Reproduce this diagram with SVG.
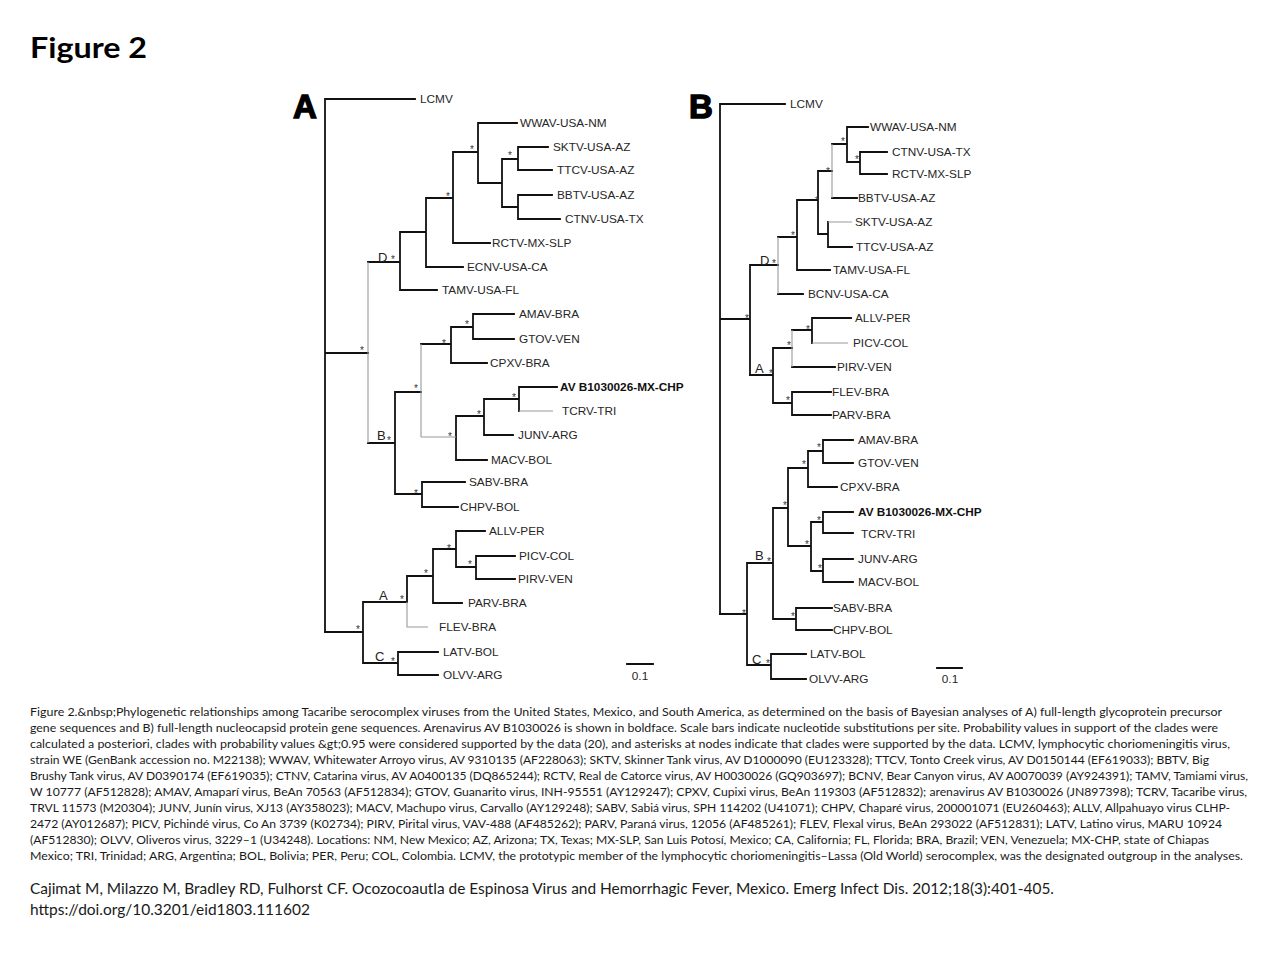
<svg xmlns="http://www.w3.org/2000/svg" width="1280" height="960" viewBox="0 0 1280 960">
<style>
.br{fill:none;stroke:#111;stroke-width:1.8;stroke-linecap:square}
.gr{fill:none;stroke:#9a9a9a;stroke-width:1.1}
.tx{font-family:"Liberation Sans",Arial,sans-serif;font-size:11.8px;fill:#262626}
.bd{font-weight:bold;fill:#111}
.cl{font-family:"Liberation Sans",Arial,sans-serif;font-size:13px;fill:#222}
.st{font-family:"Liberation Sans",Arial,sans-serif;font-size:10px;fill:#333;text-anchor:middle}
.pl{font-family:"Liberation Sans",Arial,sans-serif;font-size:33px;font-weight:bold;fill:#000;stroke:#000;stroke-width:1.4}
.cap{font-family:Lato,"Liberation Sans",sans-serif;font-size:11.3px;fill:#1a1a1a}
.cit{font-family:Lato,"Liberation Sans",sans-serif;font-size:15px;fill:#1a1a1a}
</style>
<rect width="1280" height="960" fill="#fff"/>
<text x="30" y="58" font-family="Lato,'Liberation Sans',sans-serif" font-size="29" font-weight="bold" fill="#000" textLength="117" lengthAdjust="spacingAndGlyphs">Figure 2</text>

<!-- Tree A connectors -->
<g id="connectors-A">
<path class="br" d="M325,99V632M325,99H415M325,353H368M368,262H400M400,232V290M400,290H437M400,232H426M426,198V267M426,267H463M426,198H453M453,152V243M453,243H490M453,152H478M478,123V183M478,123H517M478,183H502M502,159V207M502,159H518M518,147V170M518,147H548M518,170H552M502,207H518M518,195V219M518,195H552M518,219H560"/>
<path class="br" d="M368,443H395M395,392V494M395,392H421M421,344H451M451,327V363M451,363H487M451,327H473M473,314V339M473,314H514M473,339H514M456,416V460M456,460H487M456,416H484M484,399V435M484,435H513M484,399H519M519,387V411M519,387H557M395,494H422M422,482V507M422,482H465M422,507H458"/>
<path class="br" d="M325,632H363M363,602V663M363,602H407M407,576V602M407,576H433M433,549V603M433,603H462M433,549H456M456,531V567M456,531H485M456,567H476M476,556V579M476,556H515M476,579H515M363,663H398M398,652V675M398,652H438M398,675H438M627,664H653"/>
<path class="gr" d="M368,262V443M421,344V437M421,437H456M519,411H553M407,602V627H428"/>
</g>

<!-- Tree A nodes -->
<g id="tree-A">
<text class="pl" x="293" y="118">A</text>
<g id="A-LCMV"><text class="tx" x="420" y="103">LCMV</text></g>
<g id="A-WWAV"><text class="tx" x="520" y="127">WWAV-USA-NM</text></g>
<g id="A-SKTV"><text class="tx" x="553" y="151">SKTV-USA-AZ</text></g>
<g id="A-TTCV"><text class="tx" x="557" y="174">TTCV-USA-AZ</text></g>
<g id="A-BBTV"><text class="tx" x="557" y="199">BBTV-USA-AZ</text></g>
<g id="A-CTNV"><text class="tx" x="565" y="223">CTNV-USA-TX</text></g>
<g id="A-RCTV"><text class="tx" x="492" y="247">RCTV-MX-SLP</text></g>
<g id="A-ECNV"><text class="tx" x="467" y="271">ECNV-USA-CA</text></g>
<g id="A-TAMV"><text class="tx" x="442" y="294">TAMV-USA-FL</text></g>
<g id="A-AMAV"><text class="tx" x="519" y="318">AMAV-BRA</text></g>
<g id="A-GTOV"><text class="tx" x="519" y="343">GTOV-VEN</text></g>
<g id="A-CPXV"><text class="tx" x="490" y="367">CPXV-BRA</text></g>
<g id="A-AVB"><text class="tx bd" x="560" y="391">AV B1030026-MX-CHP</text></g>
<g id="A-TCRV"><text class="tx" x="562" y="415">TCRV-TRI</text></g>
<g id="A-JUNV"><text class="tx" x="518" y="439">JUNV-ARG</text></g>
<g id="A-MACV"><text class="tx" x="491" y="464">MACV-BOL</text></g>
<g id="A-SABV"><text class="tx" x="469" y="486">SABV-BRA</text></g>
<g id="A-CHPV"><text class="tx" x="460" y="511">CHPV-BOL</text></g>
<g id="A-ALLV"><text class="tx" x="489" y="535">ALLV-PER</text></g>
<g id="A-PICV"><text class="tx" x="519" y="560">PICV-COL</text></g>
<g id="A-PIRV"><text class="tx" x="518" y="583">PIRV-VEN</text></g>
<g id="A-PARV"><text class="tx" x="468" y="607">PARV-BRA</text></g>
<g id="A-FLEV"><text class="tx" x="439" y="631">FLEV-BRA</text></g>
<g id="A-LATV"><text class="tx" x="443" y="656">LATV-BOL</text></g>
<g id="A-OLVV"><text class="tx" x="443" y="679">OLVV-ARG</text></g>
<g id="A-clades">
<text class="cl" x="378" y="262">D</text>
<text class="cl" x="377" y="440">B</text>
<text class="cl" x="379" y="600">A</text>
<text class="cl" x="375" y="661">C</text>
</g>
<g id="A-support">
<text class="st" x="472" y="153">*</text><text class="st" x="510" y="159">*</text><text class="st" x="448" y="200">*</text><text class="st" x="393" y="263">*</text><text class="st" x="362" y="354">*</text><text class="st" x="467" y="328">*</text><text class="st" x="444" y="347">*</text><text class="st" x="416" y="392">*</text><text class="st" x="514" y="401">*</text><text class="st" x="479" y="418">*</text><text class="st" x="450" y="440">*</text><text class="st" x="389" y="444">*</text><text class="st" x="416" y="497">*</text><text class="st" x="449" y="552">*</text><text class="st" x="470" y="568">*</text><text class="st" x="426" y="577">*</text><text class="st" x="402" y="603">*</text><text class="st" x="358" y="633">*</text><text class="st" x="393" y="665">*</text>
</g>
<text class="tx" x="640" y="680" text-anchor="middle">0.1</text>
</g>

<!-- Tree B connectors -->
<g id="connectors-B">
<path class="br" d="M720,104V614M720,104H785M720,319H750M750,265V375M750,265H778M778,294H803M778,237H797M797,200V270M797,270H830M797,200H818M818,171V234M818,234H828M828,222V247M828,247H852M818,171H832M832,198H857M832,144H847M847,127V162M847,127H868M847,162H860M860,152V174M860,152H887M860,174H887"/>
<path class="br" d="M750,375H773M773,348V403M773,348H792M792,367H835M792,330H812M812,318V343M812,318H851M773,403H792M792,392V415M792,392H831M792,415H831"/>
<path class="br" d="M720,614H747M747,563V665M747,563H773M773,508V619M773,508H788M788,468V546M788,468H808M808,451V487M808,487H837M808,451H823M823,440V463M823,440H853M823,463H853M788,546H811M811,522V571M811,522H823M823,512V533M823,512H853M823,533H853M811,571H823M823,559V582M823,559H853M823,582H853M773,619H796M796,608V630M796,608H832M796,630H832M747,665H771M771,654V679M771,654H806M771,679H806M937,668H962"/>
<path class="gr" d="M778,237V294M828,222H852M832,144V198M792,330V367M812,343H848"/>
</g>

<!-- Tree B nodes -->
<g id="tree-B">
<text class="pl" x="689" y="118">B</text>
<g id="B-LCMV"><text class="tx" x="790" y="108">LCMV</text></g>
<g id="B-WWAV"><text class="tx" x="870" y="131">WWAV-USA-NM</text></g>
<g id="B-CTNV"><text class="tx" x="892" y="156">CTNV-USA-TX</text></g>
<g id="B-RCTV"><text class="tx" x="892" y="178">RCTV-MX-SLP</text></g>
<g id="B-BBTV"><text class="tx" x="858" y="202">BBTV-USA-AZ</text></g>
<g id="B-SKTV"><text class="tx" x="855" y="226">SKTV-USA-AZ</text></g>
<g id="B-TTCV"><text class="tx" x="856" y="251">TTCV-USA-AZ</text></g>
<g id="B-TAMV"><text class="tx" x="833" y="274">TAMV-USA-FL</text></g>
<g id="B-BCNV"><text class="tx" x="808" y="298">BCNV-USA-CA</text></g>
<g id="B-ALLV"><text class="tx" x="855" y="322">ALLV-PER</text></g>
<g id="B-PICV"><text class="tx" x="853" y="347">PICV-COL</text></g>
<g id="B-PIRV"><text class="tx" x="837" y="371">PIRV-VEN</text></g>
<g id="B-FLEV"><text class="tx" x="832" y="396">FLEV-BRA</text></g>
<g id="B-PARV"><text class="tx" x="832" y="419">PARV-BRA</text></g>
<g id="B-AMAV"><text class="tx" x="858" y="444">AMAV-BRA</text></g>
<g id="B-GTOV"><text class="tx" x="858" y="467">GTOV-VEN</text></g>
<g id="B-CPXV"><text class="tx" x="840" y="491">CPXV-BRA</text></g>
<g id="B-AVB"><text class="tx bd" x="858" y="516">AV B1030026-MX-CHP</text></g>
<g id="B-TCRV"><text class="tx" x="861" y="538">TCRV-TRI</text></g>
<g id="B-JUNV"><text class="tx" x="858" y="563">JUNV-ARG</text></g>
<g id="B-MACV"><text class="tx" x="858" y="586">MACV-BOL</text></g>
<g id="B-SABV"><text class="tx" x="833" y="612">SABV-BRA</text></g>
<g id="B-CHPV"><text class="tx" x="833" y="634">CHPV-BOL</text></g>
<g id="B-LATV"><text class="tx" x="810" y="658">LATV-BOL</text></g>
<g id="B-OLVV"><text class="tx" x="809" y="683">OLVV-ARG</text></g>
<g id="B-clades">
<text class="cl" x="760" y="265">D</text>
<text class="cl" x="755" y="373">A</text>
<text class="cl" x="755" y="560">B</text>
<text class="cl" x="752" y="664">C</text>
</g>
<g id="B-support">
<text class="st" x="843" y="145">*</text><text class="st" x="857" y="163">*</text><text class="st" x="828" y="175">*</text><text class="st" x="817" y="204">*</text><text class="st" x="793" y="239">*</text><text class="st" x="774" y="267">*</text><text class="st" x="747" y="322">*</text><text class="st" x="808" y="333">*</text><text class="st" x="789" y="349">*</text><text class="st" x="771" y="377">*</text><text class="st" x="788" y="404">*</text><text class="st" x="819" y="451">*</text><text class="st" x="804" y="468">*</text><text class="st" x="785" y="509">*</text><text class="st" x="819" y="524">*</text><text class="st" x="807" y="548">*</text><text class="st" x="820" y="572">*</text><text class="st" x="769" y="565">*</text><text class="st" x="793" y="620">*</text><text class="st" x="744" y="617">*</text><text class="st" x="768" y="667">*</text>
</g>
<text class="tx" x="950" y="683" text-anchor="middle">0.1</text>
</g>

<!-- Caption -->
<g id="caption">
<text class="cap" x="30" y="716" textLength="1192" lengthAdjust="spacingAndGlyphs">Figure 2.&amp;nbsp;Phylogenetic relationships among Tacaribe serocomplex viruses from the United States, Mexico, and South America, as determined on the basis of Bayesian analyses of A) full-length glycoprotein precursor</text>
<text class="cap" x="30" y="732" textLength="1188" lengthAdjust="spacingAndGlyphs">gene sequences and B) full-length nucleocapsid protein gene sequences. Arenavirus AV B1030026 is shown in boldface. Scale bars indicate nucleotide substitutions per site. Probability values in support of the clades were</text>
<text class="cap" x="30" y="748" textLength="1200" lengthAdjust="spacingAndGlyphs">calculated a posteriori, clades with probability values &amp;gt;0.95 were considered supported by the data (20), and asterisks at nodes indicate that clades were supported by the data. LCMV, lymphocytic choriomeningitis virus,</text>
<text class="cap" x="30" y="764" textLength="1179" lengthAdjust="spacingAndGlyphs">strain WE (GenBank accession no. M22138); WWAV, Whitewater Arroyo virus, AV 9310135 (AF228063); SKTV, Skinner Tank virus, AV D1000090 (EU123328); TTCV, Tonto Creek virus, AV D0150144 (EF619033); BBTV, Big</text>
<text class="cap" x="30" y="780" textLength="1218" lengthAdjust="spacingAndGlyphs">Brushy Tank virus, AV D0390174 (EF619035); CTNV, Catarina virus, AV A0400135 (DQ865244); RCTV, Real de Catorce virus, AV H0030026 (GQ903697); BCNV, Bear Canyon virus, AV A0070039 (AY924391); TAMV, Tamiami virus,</text>
<text class="cap" x="30" y="796" textLength="1217" lengthAdjust="spacingAndGlyphs">W 10777 (AF512828); AMAV, Amaparí virus, BeAn 70563 (AF512834); GTOV, Guanarito virus, INH-95551 (AY129247); CPXV, Cupixi virus, BeAn 119303 (AF512832); arenavirus AV B1030026 (JN897398); TCRV, Tacaribe virus,</text>
<text class="cap" x="30" y="812" textLength="1200" lengthAdjust="spacingAndGlyphs">TRVL 11573 (M20304); JUNV, Junín virus, XJ13 (AY358023); MACV, Machupo virus, Carvallo (AY129248); SABV, Sabiá virus, SPH 114202 (U41071); CHPV, Chaparé virus, 200001071 (EU260463); ALLV, Allpahuayo virus CLHP-</text>
<text class="cap" x="30" y="828" textLength="1192" lengthAdjust="spacingAndGlyphs">2472 (AY012687); PICV, Pichindé virus, Co An 3739 (K02734); PIRV, Pirital virus, VAV-488 (AF485262); PARV, Paraná virus, 12056 (AF485261); FLEV, Flexal virus, BeAn 293022 (AF512831); LATV, Latino virus, MARU 10924</text>
<text class="cap" x="30" y="844" textLength="1179" lengthAdjust="spacingAndGlyphs">(AF512830); OLVV, Oliveros virus, 3229–1 (U34248). Locations: NM, New Mexico; AZ, Arizona; TX, Texas; MX-SLP, San Luis Potosí, Mexico; CA, California; FL, Florida; BRA, Brazil; VEN, Venezuela; MX-CHP, state of Chiapas</text>
<text class="cap" x="30" y="860" textLength="1213" lengthAdjust="spacingAndGlyphs">Mexico; TRI, Trinidad; ARG, Argentina; BOL, Bolivia; PER, Peru; COL, Colombia. LCMV, the prototypic member of the lymphocytic choriomeningitis–Lassa (Old World) serocomplex, was the designated outgroup in the analyses.</text>
</g>
<g id="citation">
<text class="cit" x="30" y="894" textLength="1024" lengthAdjust="spacingAndGlyphs">Cajimat M, Milazzo M, Bradley RD, Fulhorst CF. Ocozocoautla de Espinosa Virus and Hemorrhagic Fever, Mexico. Emerg Infect Dis. 2012;18(3):401-405.</text>
<text class="cit" x="30" y="915" textLength="280" lengthAdjust="spacingAndGlyphs">https://doi.org/10.3201/eid1803.111602</text>
</g>
</svg>
